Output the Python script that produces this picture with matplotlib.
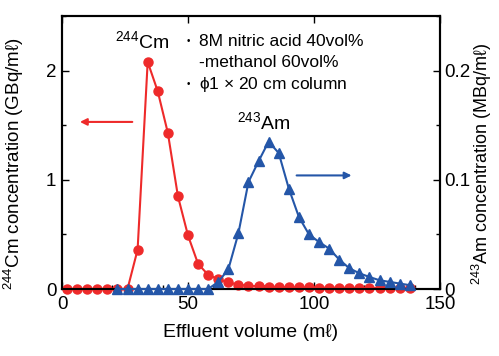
import matplotlib
matplotlib.use("Agg")
import matplotlib.pyplot as plt
from matplotlib.ticker import MultipleLocator

plt.rcParams["font.family"] = ["Liberation Sans", "DejaVu Sans"]
plt.rcParams["mathtext.fontset"] = "custom"
plt.rcParams["mathtext.rm"] = "Liberation Sans"
plt.rcParams["mathtext.it"] = "Liberation Sans:italic"
plt.rcParams["mathtext.default"] = "regular"

RED = "#ee2a2a"
BLUE = "#2456a8"

# Cm-244 (left axis, GBq/ml)
cm_volume = [2, 6, 10, 14, 18, 22, 26, 30, 34, 38, 42, 46, 50, 54, 58, 62, 66,
             70, 74, 78, 82, 86, 90, 94, 98, 102, 106, 110, 114, 118, 122, 126,
             130, 134, 138]
cm_conc = [0, 0, 0, 0, 0, 0, 0, 0.36, 2.08, 1.81, 1.43, 0.85, 0.49, 0.23, 0.13,
           0.09, 0.06, 0.04, 0.03, 0.025, 0.02, 0.02, 0.015, 0.015, 0.015, 0.012,
           0.012, 0.012, 0.01, 0.01, 0.01, 0.01, 0.01, 0.01, 0.01]

# Am-243 (right axis, MBq/ml)
am_volume = [22, 26, 30, 34, 38, 42, 46, 50, 54, 58, 62, 66, 70, 74, 78, 82, 86,
             90, 94, 98, 102, 106, 110, 114, 118, 122, 126, 130, 134, 138]
am_conc = [0, 0, 0, 0, 0, 0, 0, 0, 0, 0, 0.0065, 0.018, 0.051, 0.098, 0.117,
           0.135, 0.1245, 0.092, 0.066, 0.050, 0.043, 0.037, 0.027, 0.019,
           0.0144, 0.011, 0.008, 0.0065, 0.005, 0.0035]

fig = plt.figure(figsize=(4.99, 3.56), dpi=100)
ax = fig.add_axes([62 / 499, 67 / 356, 378 / 499, 273 / 356])
ax2 = ax.twinx()

ax.plot(cm_volume, cm_conc, color=RED, lw=1.5, marker="o", ms=6.5, clip_on=False, zorder=3)
ax2.plot(am_volume, am_conc, color=BLUE, lw=1.5, marker="^", ms=7, clip_on=False, zorder=3)

ax.set_xlim(0, 150)
ax.set_ylim(0, 2.5)
ax2.set_ylim(0, 0.25)

ax.xaxis.set_major_locator(MultipleLocator(50))
ax.xaxis.set_minor_locator(MultipleLocator(10))
ax.yaxis.set_major_locator(MultipleLocator(1))
ax.yaxis.set_minor_locator(MultipleLocator(0.5))
ax2.yaxis.set_major_locator(MultipleLocator(0.1))
ax2.yaxis.set_minor_locator(MultipleLocator(0.05))
ax2.yaxis.set_major_formatter(plt.FuncFormatter(lambda v, p: "0" if v == 0 else f"{v:.1f}"))
ax.yaxis.set_major_formatter(plt.FuncFormatter(lambda v, p: f"{v:.0f}"))

for a in (ax, ax2):
    a.tick_params(which="both", direction="in", labelsize=13.5, width=1)
    a.tick_params(which="major", length=5)
    a.tick_params(which="minor", length=3)
    for s in a.spines.values():
        s.set_linewidth(1.5)
ax.tick_params(axis="x", top=True, pad=5)
ax.tick_params(axis="y", pad=4)
ax2.tick_params(axis="y", pad=3)

ax.set_xlabel("Effluent volume (mℓ)", fontsize=14, labelpad=8)
ax.set_ylabel("$^{244}$Cm concentration (GBq/mℓ)", fontsize=13.5)
ax2.set_ylabel("$^{243}$Am concentration (MBq/mℓ)", fontsize=13)
ax.yaxis.set_label_coords(-0.095, 0.46)
ax2.yaxis.set_label_coords(1.08, 0.46)

ax.text(32, 2.17, "$^{244}$Cm", fontsize=14, ha="center", va="bottom")
ax2.text(80, 0.143, "$^{243}$Am", fontsize=14, ha="center", va="bottom")

ax.annotate("", xy=(6, 1.53), xytext=(29, 1.53),
            arrowprops=dict(arrowstyle="-|>", color=RED, lw=1.5, mutation_scale=10))
ax2.annotate("", xy=(116, 0.104), xytext=(92, 0.104),
             arrowprops=dict(arrowstyle="-|>", color=BLUE, lw=1.5, mutation_scale=10))

note_size = 12.5
ax.text(50.3, 2.27, "•", fontsize=7, va="center", ha="center")
ax.text(54.2, 2.266, "8M nitric acid 40vol%", fontsize=note_size, va="center")
ax.text(54.2, 2.073, "-methanol 60vol%", fontsize=note_size, va="center")
ax.text(50.3, 1.876, "•", fontsize=7, va="center", ha="center")
ax.text(54.2, 1.872, "$\\phi$1 × 20 cm column", fontsize=note_size, va="center")

fig.savefig("out.png", dpi=100)
